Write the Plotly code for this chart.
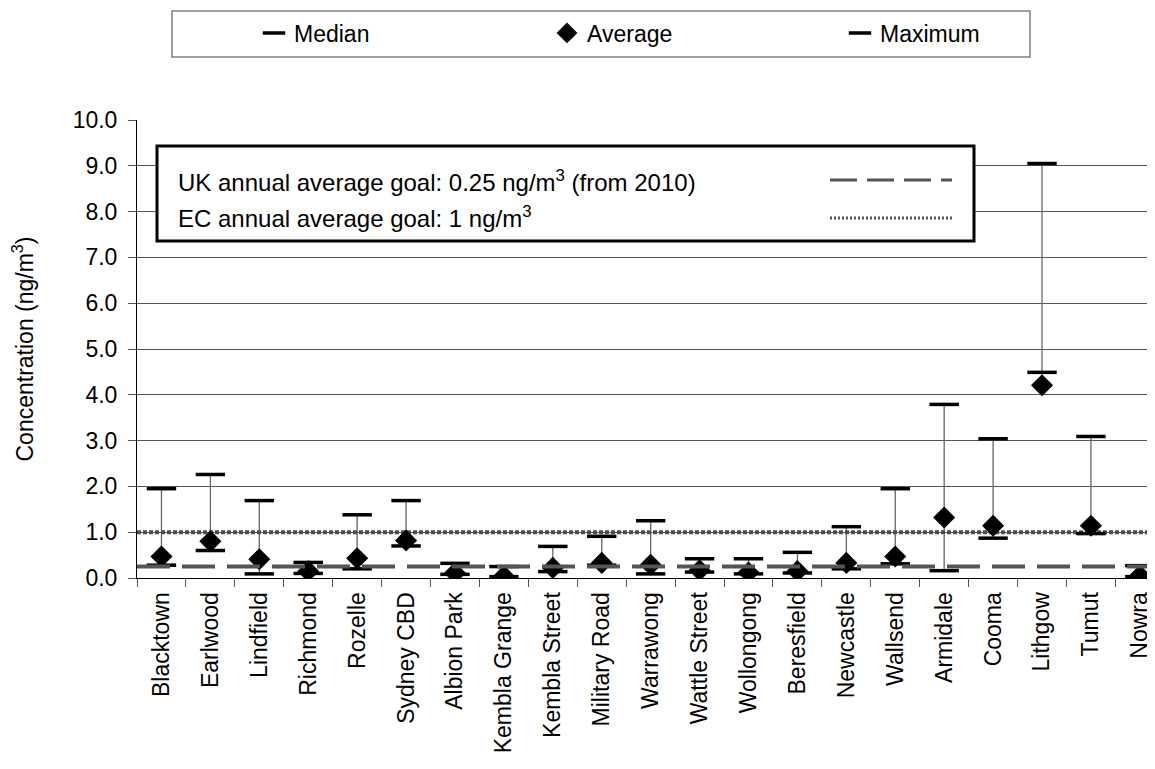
import plotly.graph_objects as go

sites = ["Blacktown", "Earlwood", "Lindfield", "Richmond", "Rozelle", "Sydney CBD",
         "Albion Park", "Kembla Grange", "Kembla Street", "Military Road", "Warrawong",
         "Wattle Street", "Wollongong", "Beresfield", "Newcastle", "Wallsend",
         "Armidale", "Cooma", "Lithgow", "Tumut", "Nowra"]
median = [0.28, 0.60, 0.09, 0.10, 0.20, 0.70, 0.08, 0.03, 0.14, 0.28, 0.09,
          0.13, 0.09, 0.11, 0.20, 0.31, 0.16, 0.87, 4.49, 0.97, 0.03]
average = [0.47, 0.80, 0.41, 0.15, 0.43, 0.82, 0.11, 0.04, 0.22, 0.33, 0.29,
           0.17, 0.12, 0.15, 0.33, 0.47, 1.32, 1.14, 4.21, 1.14, 0.05]
maximum = [1.95, 2.26, 1.69, 0.34, 1.38, 1.69, 0.32, 0.25, 0.69, 0.91, 1.25,
           0.42, 0.42, 0.56, 1.12, 1.95, 3.79, 3.04, 9.05, 3.09, 0.27]
UK_GOAL = 0.25
EC_GOAL = 1.0
y_ticks = [0, 1, 2, 3, 4, 5, 6, 7, 8, 9, 10]

FONT = "Liberation Sans, Arial, sans-serif"
GRAY = "#555555"

n = len(sites)
pos = list(range(n))
span = [-0.5, n - 0.5]

fig = go.Figure()

# high-low lines from median to maximum
xs, ys = [], []
for p, lo, hi in zip(pos, median, maximum):
    xs += [p, p, None]
    ys += [lo, hi, None]
fig.add_trace(go.Scatter(x=xs, y=ys, mode="lines", line=dict(color="#666666", width=1.3),
                         showlegend=False, hoverinfo="skip"))

# EC goal line (under markers)
fig.add_trace(go.Scatter(x=span, y=[EC_GOAL, EC_GOAL], mode="lines", showlegend=False,
                         hoverinfo="skip", line=dict(color="#4d4d4d", width=4, dash="4px,2px")))

fig.add_trace(go.Scatter(x=pos, y=median, mode="markers", name="Median",
                         marker=dict(symbol="line-ew", size=21, color="black",
                                     line=dict(color="black", width=3.5))))
fig.add_trace(go.Scatter(x=pos, y=average, mode="markers", name="Average",
                         marker=dict(symbol="diamond", size=17, color="black",
                                     line=dict(width=0))))
fig.add_trace(go.Scatter(x=pos, y=maximum, mode="markers", name="Maximum",
                         marker=dict(symbol="line-ew", size=21, color="black",
                                     line=dict(color="black", width=3.5))))

# UK goal line (over markers)
fig.add_trace(go.Scatter(x=span, y=[UK_GOAL, UK_GOAL], mode="lines", showlegend=False,
                         hoverinfo="skip", line=dict(color=GRAY, width=4, dash="33px,12px")))

# page has 8px body margin; geometry below is in figure pixels
OFF = 8
W, H = 1155 - OFF, 769 - OFF
L, T = 137 - OFF, 120 - OFF
B = H - (578 - OFF)
pw, ph = W - L, H - T - B
def px(x):
    return (x - OFF - L) / pw
def py(y):
    return (H - B - (y - OFF)) / ph

# top legend frame
fig.add_shape(type="rect", xref="paper", yref="paper", x0=px(172), x1=px(1030),
              y0=py(57), y1=py(11), line=dict(color="#808080", width=1.5), layer="above")

# inner goal box
fig.add_shape(type="rect", xref="paper", yref="paper", x0=px(157), x1=px(974),
              y0=py(241), y1=py(146), line=dict(color="black", width=3),
              fillcolor="white", layer="above")
fig.add_annotation(xref="paper", yref="paper", x=px(176), y=py(181), xanchor="left",
                   yanchor="middle", showarrow=False,
                   text="UK annual average goal: 0.25 ng/m<sup>3</sup> (from 2010)",
                   font=dict(family=FONT, size=24, color="black"))
fig.add_annotation(xref="paper", yref="paper", x=px(176), y=py(217), xanchor="left",
                   yanchor="middle", showarrow=False,
                   text="EC annual average goal: 1 ng/m<sup>3</sup>",
                   font=dict(family=FONT, size=24, color="black"))
fig.add_shape(type="line", xref="paper", yref="paper", x0=px(830), x1=px(952),
              y0=py(180), y1=py(180), line=dict(color=GRAY, width=3, dash="27px,10px"),
              layer="above")
fig.add_shape(type="line", xref="paper", yref="paper", x0=px(830), x1=px(952),
              y0=py(218), y1=py(218), line=dict(color=GRAY, width=3, dash="2px,2px"),
              layer="above")

cat_px = (1115.7 - 137.3) / (n - 1)
x_range = [-0.5, -0.5 + pw / cat_px]

fig.update_layout(
    width=W, height=H,
    margin=dict(l=L, r=0, t=T, b=B, autoexpand=False),
    paper_bgcolor="white", plot_bgcolor="white",
    font=dict(family=FONT, size=23, color="black"),
    showlegend=True,
    legend=dict(orientation="h", x=px(254), xanchor="left", y=py(33), yanchor="middle",
                entrywidth=248, itemsizing="trace", bgcolor="rgba(0,0,0,0)",
                borderwidth=0, font=dict(family=FONT, size=23, color="black")),
    xaxis=dict(range=x_range, tickvals=pos, ticktext=sites, showgrid=False, zeroline=False,
               showline=True, linecolor="black", linewidth=1, ticks="outside", ticklen=0,
               tickangle=-90, automargin=False, ticklabelstandoff=4,
               minor=dict(tickmode="linear", tick0=-0.5, dtick=1, ticks="outside",
                          ticklen=8, tickcolor=GRAY, showgrid=False),
               tickfont=dict(family=FONT, size=23, color="black")),
    yaxis=dict(range=[0, 10], tickvals=y_ticks, tickformat=".1f", showgrid=True,
               gridcolor=GRAY, gridwidth=1, zeroline=False, showline=True,
               linecolor="black", linewidth=1, ticks="outside", ticklen=8,
               tickcolor=GRAY, automargin=False, ticklabelstandoff=6,
               tickfont=dict(family=FONT, size=23, color="black"),
               title=dict(text="Concentration (ng/m<sup>3</sup>)", standoff=32,
                          font=dict(family=FONT, size=23, color="black"))),
)

fig.write_html("out.html")
